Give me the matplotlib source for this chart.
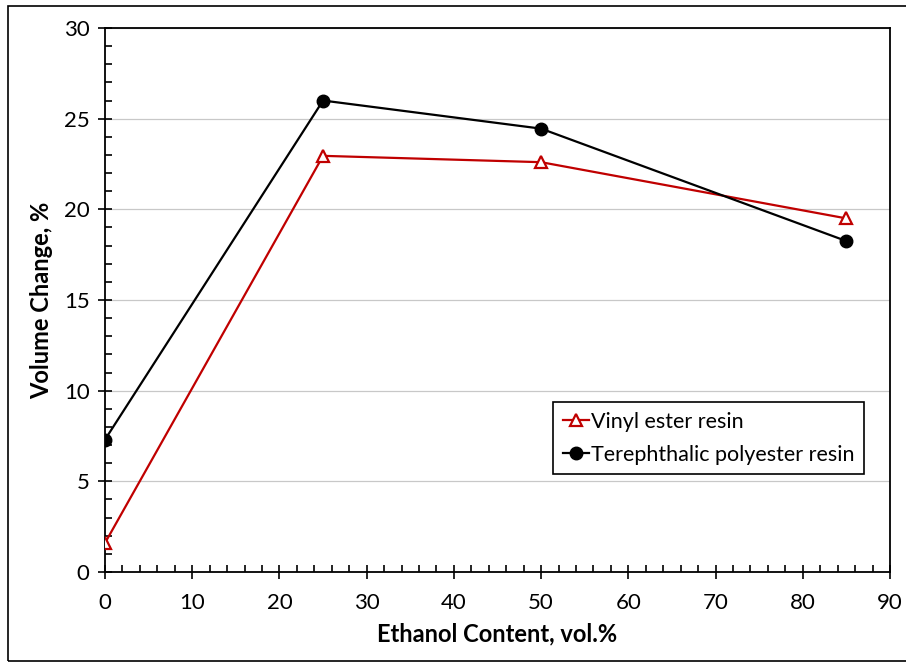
import matplotlib
matplotlib.use("Agg")
import matplotlib.pyplot as plt
from matplotlib.ticker import MultipleLocator
from matplotlib.patches import Rectangle

ethanol = [0, 25, 50, 85]
vinyl_ester = [1.6, 22.95, 22.6, 19.5]
terephthalic = [7.3, 26.0, 24.45, 18.25]
series_names = ["Vinyl ester resin", "Terephthalic polyester resin"]

plt.rcParams['font.family'] = ['Lato', 'DejaVu Sans']

fig = plt.figure(figsize=(9.06, 6.64), dpi=100)
ax = fig.add_axes([105/906, 1-572/664, 785/906, 544/664])

fig.patches.append(Rectangle((8/906, 1-661/664), 1.2, 655/664, transform=fig.transFigure,
                             fill=False, edgecolor='black', linewidth=1.2))

ax.plot(ethanol, vinyl_ester, color='#C00000', lw=1.6, marker='^', markersize=8,
        markerfacecolor='white', markeredgecolor='#C00000', markeredgewidth=1.6,
        label=series_names[0], zorder=3)
ax.plot(ethanol, terephthalic, color='black', lw=1.6, marker='o', markersize=9,
        markerfacecolor='black', markeredgecolor='black',
        label=series_names[1], zorder=4)

ax.set_xlim(0, 90)
ax.set_ylim(0, 30)
ax.xaxis.set_major_locator(MultipleLocator(10))
ax.xaxis.set_minor_locator(MultipleLocator(2))
ax.yaxis.set_major_locator(MultipleLocator(5))
ax.yaxis.set_minor_locator(MultipleLocator(1))
ax.tick_params(which='major', direction='inout', length=10, width=1.2, labelsize=16, pad=6)
ax.tick_params(which='minor', direction='in', length=5, width=1.2)
ax.tick_params(axis='x', which='major', pad=10)
ax.grid(axis='y', which='major', color='#c8c8c8', lw=0.9)
ax.set_axisbelow(True)
for s in ax.spines.values():
    s.set_linewidth(1.3)

ax.set_xlabel("Ethanol Content, vol.%", fontsize=17, fontweight='bold', labelpad=7)
ax.set_ylabel("Volume Change, %", fontsize=17, fontweight='bold', labelpad=8)

leg = ax.legend(loc='upper left', bbox_to_anchor=(0.571, 0.3125), fontsize=15.5,
                frameon=True, fancybox=False, edgecolor='black', framealpha=1,
                handlelength=1.2, handletextpad=0.1, borderpad=0.45, labelspacing=0.6,
                borderaxespad=0)
leg.get_frame().set_linewidth(1.2)

fig.savefig("out.png", dpi=100)
